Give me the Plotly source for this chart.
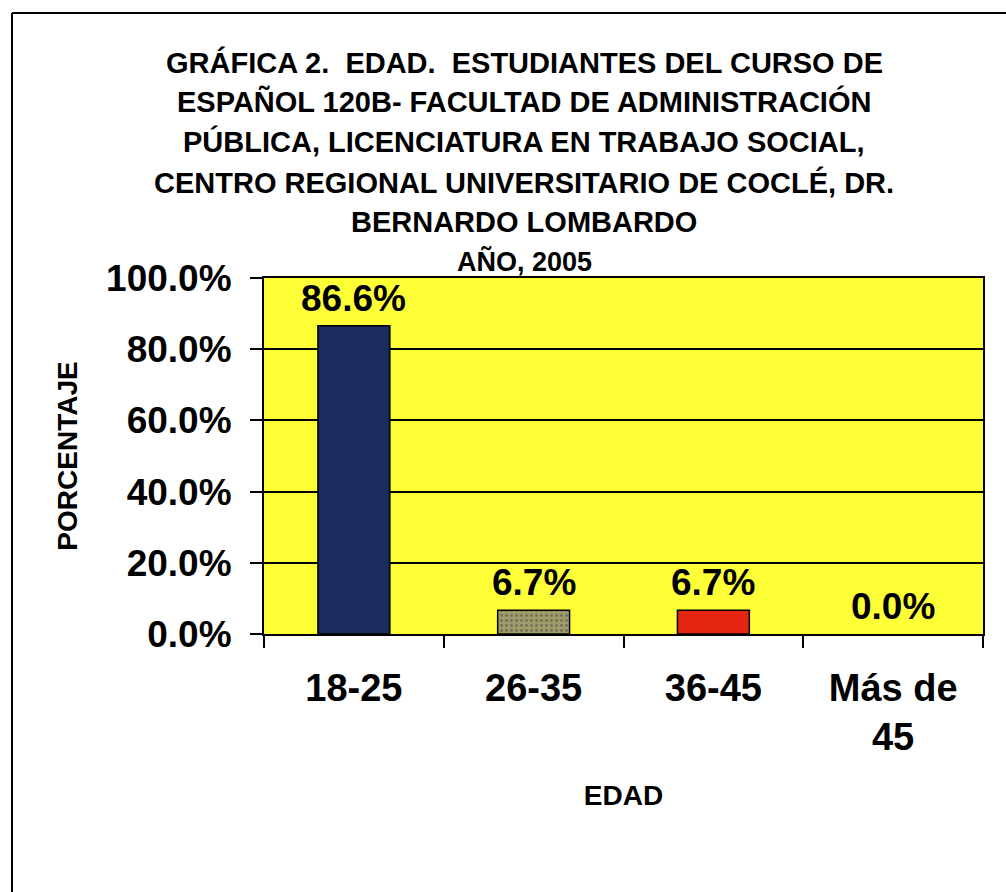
import plotly.graph_objects as go

# ---------------- data ----------------
categories = ["18-25", "26-35", "36-45", "Más de<br>45"]
values = [86.6, 6.7, 6.7, 0.0]
bar_colors = ["#1c2b5e", "#9f9b6b", "#e2260f", "#e2260f"]
bar_patterns = ["", ".", "", ""]
y_ticks = [0, 20, 40, 60, 80, 100]
y_tick_labels = ["0.0%", "20.0%", "40.0%", "60.0%", "80.0%", "100.0%"]
title_lines = [
    "GRÁFICA 2.  EDAD.  ESTUDIANTES DEL CURSO DE",
    "ESPAÑOL 120B- FACULTAD DE ADMINISTRACIÓN",
    "PÚBLICA, LICENCIATURA EN TRABAJO SOCIAL,",
    "CENTRO REGIONAL UNIVERSITARIO DE COCLÉ, DR.",
    "BERNARDO LOMBARDO",
]
title_year = "AÑO, 2005"
x_title = "EDAD"
y_title = "PORCENTAJE"

# ---------------- layout geometry ----------------
W, H = 1006, 892
L, R, T, B = 264, 23, 278, 258
PW, PH = W - L - R, H - T - B


def px_x(px):
    return (px - L) / PW


def px_y(py):
    return (H - B - py) / PH


SANS = "Liberation Sans, Arial, sans-serif"

fig = go.Figure()
fig.add_trace(
    go.Bar(
        x=categories,
        y=values,
        width=0.4,
        marker=dict(
            color=bar_colors,
            line=dict(color="black", width=[1.5 if v > 0 else 0 for v in values]),
            pattern=dict(shape=bar_patterns, fgcolor="#c9c59a", size=5, solidity=0.25),
        ),
        hoverinfo="x+y",
    )
)

annotations = []
# data labels
for c, v in zip(categories, values):
    annotations.append(
        dict(
            x=c, y=v, xref="x", yref="y", text=f"{v:.1f}%", showarrow=False,
            yanchor="bottom", yshift=5,
            font=dict(family=SANS, size=37, color="black", weight="bold"),
        )
    )

# title lines
centers = [62, 102, 142, 182, 222]
for line, cy in zip(title_lines, centers):
    annotations.append(
        dict(
            x=px_x(524), y=px_y(cy), xref="paper", yref="paper", text=line,
            showarrow=False, xanchor="center", yanchor="middle",
            font=dict(family=SANS, size=29, color="black", weight="bold"),
        )
    )
annotations.append(
    dict(
        x=px_x(524), y=px_y(262), xref="paper", yref="paper", text=title_year,
        showarrow=False, xanchor="center", yanchor="middle",
        font=dict(family=SANS, size=27, color="black", weight="bold"),
    )
)

shapes = [
    # outer frame (left and top edges)
    dict(type="line", xref="paper", yref="paper", x0=px_x(12), x1=px_x(12),
         y0=px_y(13), y1=px_y(H + 5), line=dict(color="black", width=2)),
    dict(type="line", xref="paper", yref="paper", x0=px_x(12), x1=px_x(W + 5),
         y0=px_y(13), y1=px_y(13), line=dict(color="black", width=2)),
]

fig.update_layout(
    width=W, height=H,
    margin=dict(l=L, r=R, t=T, b=B, autoexpand=False),
    paper_bgcolor="white",
    plot_bgcolor="#ffff38",
    showlegend=False,
    annotations=annotations,
    shapes=shapes,
)

fig.update_xaxes(
    type="category",
    showline=True, mirror=True, linecolor="black", linewidth=2,
    ticks="outside", ticklen=12, tickwidth=2, tickcolor="black",
    tickson="boundaries",
    tickfont=dict(family=SANS, size=38, color="black", weight="bold"),
    ticklabelstandoff=19,
    showgrid=False,
    title=dict(text=x_title, standoff=28,
               font=dict(family=SANS, size=28, color="black", weight="bold")),
)
fig.update_yaxes(
    range=[0, 100],
    tickvals=y_ticks, ticktext=y_tick_labels,
    showline=True, mirror=True, linecolor="black", linewidth=2,
    ticks="outside", ticklen=12, tickwidth=2, tickcolor="black",
    showgrid=True, gridcolor="black", gridwidth=2,
    zeroline=False,
    tickfont=dict(family=SANS, size=37, color="black", weight="bold"),
    ticklabelstandoff=11,
    title=dict(text=y_title, standoff=20,
               font=dict(family=SANS, size=28, color="black", weight="bold")),
)

fig.write_html(
    "out.html",
    config={"displayModeBar": False},
    post_script="document.body.style.margin='0';document.body.style.overflow='hidden';",
)
